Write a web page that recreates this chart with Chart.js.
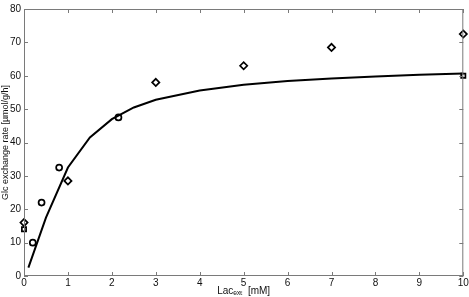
<!DOCTYPE html>
<html>
<head>
<meta charset="utf-8">
<script src="https://cdn.jsdelivr.net/npm/chart.js@4"></script>
<style>
  html, body { margin: 0; padding: 0; background: #fff; }
  #wrap { width: 469px; height: 297px; }
</style>
</head>
<body>
<div id="wrap"><canvas id="chart"></canvas></div>
<script>
// measured points
const circleX = [0.2, 0.4, 0.8, 2.15];
const circleY = [10, 22, 32.5, 47.5];
const diamondX = [0, 1, 3, 5, 7, 10];
const diamondY = [16, 28.5, 58, 63, 68.5, 72.5];
const squareX = [0, 10];
const squareY = [14, 60];

// model curve
const fitX = [0.1, 0.5, 1, 1.5, 2, 2.5, 3, 4, 5, 6, 7, 8, 9, 10];
const fitY = [2.5, 17.5, 32.5, 41.5, 47, 50.5, 52.8, 55.6, 57.3, 58.4, 59.2, 59.8, 60.3, 60.7];

const xTicks = [0, 1, 2, 3, 4, 5, 6, 7, 8, 9, 10];
const yTicks = [0, 10, 20, 30, 40, 50, 60, 70, 80];

const toPts = (xs, ys) => xs.map((x, i) => ({ x: x, y: ys[i] }));

const axisColor = '#7a7a7a';

// matlab-like box with inward ticks
const boxTicks = {
  id: 'boxTicks',
  afterDatasetsDraw(chart) {
    const { ctx, chartArea: a, scales } = chart;
    ctx.save();
    ctx.strokeStyle = axisColor;
    ctx.lineWidth = 1;
    ctx.strokeRect(a.left + 0.5, a.top + 0.5, a.right - a.left - 1, a.bottom - a.top - 1);
    ctx.beginPath();
    xTicks.forEach(v => {
      const px = Math.round(scales.x.getPixelForValue(v)) + 0.5;
      ctx.moveTo(px, a.bottom); ctx.lineTo(px, a.bottom - 4);
      ctx.moveTo(px, a.top); ctx.lineTo(px, a.top + 4);
    });
    yTicks.forEach(v => {
      const py = Math.round(scales.y.getPixelForValue(v)) + 0.5;
      ctx.moveTo(a.left, py); ctx.lineTo(a.left + 4, py);
      ctx.moveTo(a.right, py); ctx.lineTo(a.right - 4, py);
    });
    ctx.stroke();
    ctx.restore();
  }
};

new Chart(document.getElementById('chart'), {
  type: 'scatter',
  data: {
    datasets: [
      {
        label: 'model',
        data: toPts(fitX, fitY),
        showLine: true,
        borderColor: '#000',
        borderWidth: 2,
        pointRadius: 0,
        tension: 0,
        clip: false
      },
      {
        label: 'circles',
        data: toPts(circleX, circleY),
        pointStyle: 'circle',
        pointRadius: 3,
        borderColor: '#000',
        borderWidth: 1.7,
        backgroundColor: 'rgba(0,0,0,0)',
        clip: false
      },
      {
        label: 'diamonds',
        data: toPts(diamondX, diamondY),
        pointStyle: 'rectRot',
        pointRadius: 3.6,
        borderColor: '#000',
        borderWidth: 1.7,
        backgroundColor: 'rgba(0,0,0,0)',
        clip: false
      },
      {
        label: 'squares',
        data: toPts(squareX, squareY),
        pointStyle: 'rect',
        pointRadius: 3,
        borderColor: '#000',
        borderWidth: 1.7,
        backgroundColor: 'rgba(0,0,0,0)',
        clip: false
      }
    ]
  },
  options: {
    responsive: true,
    maintainAspectRatio: false,
    animation: false,
    layout: { padding: { top: 4, right: 0, left: 0, bottom: 0 } },
    plugins: {
      legend: { display: false },
      tooltip: { enabled: false }
    },
    scales: {
      x: {
        type: 'linear',
        min: 0,
        max: 10,
        afterBuildTicks: s => { s.ticks = xTicks.map(v => ({ value: v })); },
        afterFit: s => { s.height = 21; s.paddingRight = 4; },
        grid: { display: false, drawTicks: false },
        border: { display: false },
        ticks: { color: '#111', font: { family: 'Liberation Sans', size: 10 }, padding: 1, maxRotation: 0 },
        title: {
          display: true,
          text: 'Lacₑₓₜ  [mM]',
          color: '#111',
          font: { family: 'Liberation Sans', size: 10 },
          padding: { top: -2, bottom: 0 }
        }
      },
      y: {
        type: 'linear',
        min: 0,
        max: 80,
        afterBuildTicks: s => { s.ticks = yTicks.map(v => ({ value: v })); },
        afterFit: s => { s.width = 24; },
        grid: { display: false, drawTicks: false },
        border: { display: false },
        ticks: { color: '#111', font: { family: 'Liberation Sans', size: 10 }, padding: 3 },
        title: {
          display: true,
          text: 'Glc exchange rate [µmol/g/h]',
          color: '#111',
          font: { family: 'Liberation Sans', size: 9 },
          padding: { top: 0, bottom: 0 }
        }
      }
    }
  },
  plugins: [boxTicks]
});
</script>
</body>
</html>
